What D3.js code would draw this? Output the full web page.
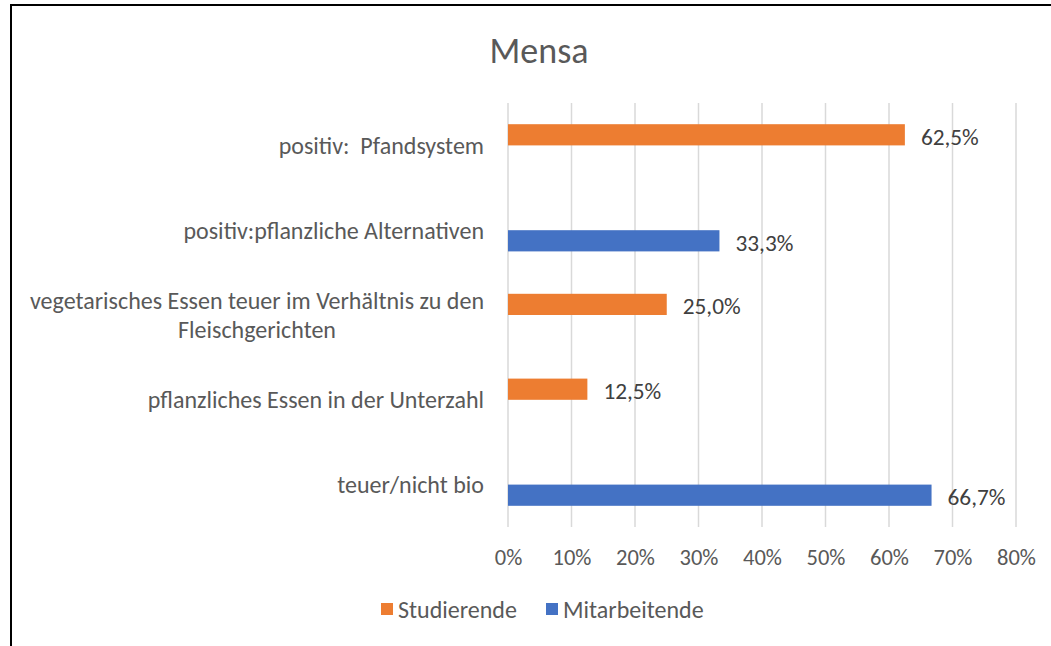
<!DOCTYPE html>
<html>
<head>
<meta charset="utf-8">
<script src="https://cdn.jsdelivr.net/npm/d3@7"></script>
<style>
  html, body { margin: 0; padding: 0; background: #fff; }
  svg { display: block; font-family: Carlito, Calibri, Lato, sans-serif; }
  svg text { white-space: pre; }
</style>
</head>
<body>
<svg id="chart" width="1051" height="646"></svg>
<script>
const categories = [
    "positiv:  Pfandsystem",
    "positiv:pflanzliche Alternativen",
    "vegetarisches Essen teuer im Verhältnis zu den\nFleischgerichten",
    "pflanzliches Essen in der Unterzahl",
    "teuer/nicht bio"
];
const seriesNames = ["Studierende", "Mitarbeitende"];
const studierende = [62.5, null, 25.0, 12.5, null];
const mitarbeitende = [null, 33.3, null, null, 66.7];
const xTicks = [0, 10, 20, 30, 40, 50, 60, 70, 80];

const colors = ["#ED7D31", "#4472C4"];
const series = [studierende, mitarbeitende];

const svg = d3.select("#chart");
const width = 1051;
const height = 646;

// frame (only top and left edges are visible in the picture)
svg.append("line").attr("x1", 11).attr("y1", 5).attr("x2", width).attr("y2", 5)
    .attr("stroke", "#000").attr("stroke-width", 2);
svg.append("line").attr("x1", 11).attr("y1", 4).attr("x2", 11).attr("y2", height)
    .attr("stroke", "#000").attr("stroke-width", 2);

const plot = { left: 508, right: 1016, top: 103, bottom: 527 };

const x = d3.scaleLinear().domain([0, 80]).range([plot.left, plot.right]);
const y = d3.scaleBand().domain(categories).range([plot.top, plot.bottom]).padding(0);
const barH = y.bandwidth() / 4;

// title
svg.append("text")
    .attr("x", 539).attr("y", 63)
    .attr("text-anchor", "middle")
    .attr("fill", "#595959")
    .attr("font-size", 36)
    .text("Mensa");

// gridlines
svg.append("g")
    .selectAll("line")
    .data(xTicks)
    .enter()
    .append("line")
    .attr("x1", d => x(d)).attr("x2", d => x(d))
    .attr("y1", plot.top).attr("y2", plot.bottom)
    .attr("stroke", "#D9D9D9").attr("stroke-width", 1.5);

// x axis labels
const xAxis = svg.append("g")
    .attr("transform", `translate(0,${plot.bottom})`)
    .call(d3.axisBottom(x).tickValues(xTicks).tickFormat(d => d + "%").tickSize(0).tickPadding(22));
xAxis.select(".domain").remove();
xAxis.selectAll("text")
    .attr("fill", "#595959")
    .attr("font-size", 22.5)
    .attr("font-family", "Carlito, Calibri, Lato, sans-serif");

// category labels
const catG = svg.append("g");
categories.forEach(function (c) {
    const lines = c.split("\n");
    const cy = y(c) + y.bandwidth() / 2;
    const t = catG.append("text")
        .attr("fill", "#595959")
        .attr("font-size", 24);
    lines.forEach(function (l, i) {
        t.append("tspan").attr("x", 0)
            .attr("dy", i === 0 ? 0 : 29)
            .text(l);
    });
    // right-aligned block, lines centred inside it
    const w = t.node().getBBox().width;
    t.attr("text-anchor", "middle");
    t.selectAll("tspan").attr("x", 484 - w / 2);
    t.attr("transform", `translate(0,${cy - (lines.length - 1) * 14.5 + 8.5})`);
});

// bars and labels
series.forEach(function (vals, si) {
    const data = categories.map((c, i) => ({ cat: c, v: vals[i] })).filter(d => d.v != null);
    const g = svg.append("g");
    g.selectAll("rect")
        .data(data)
        .enter()
        .append("rect")
        .attr("x", x(0))
        .attr("y", d => y(d.cat) + y.bandwidth() / 2 - barH + si * barH)
        .attr("width", d => x(d.v) - x(0))
        .attr("height", barH)
        .attr("fill", colors[si]);
    g.selectAll("text")
        .data(data)
        .enter()
        .append("text")
        .attr("x", d => x(d.v) + 16)
        .attr("y", d => y(d.cat) + y.bandwidth() / 2 - barH / 2 + si * barH + 10)
        .attr("fill", "#404040")
        .attr("font-size", 23.3)
        .text(d => d3.format(".1f")(d.v).replace(".", ",") + "%");
});

// legend
const legend = svg.append("g");
const legendX = [381, 546];
seriesNames.forEach(function (n, i) {
    legend.append("rect")
        .attr("x", legendX[i]).attr("y", 603)
        .attr("width", 12).attr("height", 12)
        .attr("fill", colors[i]);
    legend.append("text")
        .attr("x", legendX[i] + 17).attr("y", 618)
        .attr("fill", "#595959")
        .attr("font-size", 24)
        .text(n);
});
</script>
</body>
</html>
